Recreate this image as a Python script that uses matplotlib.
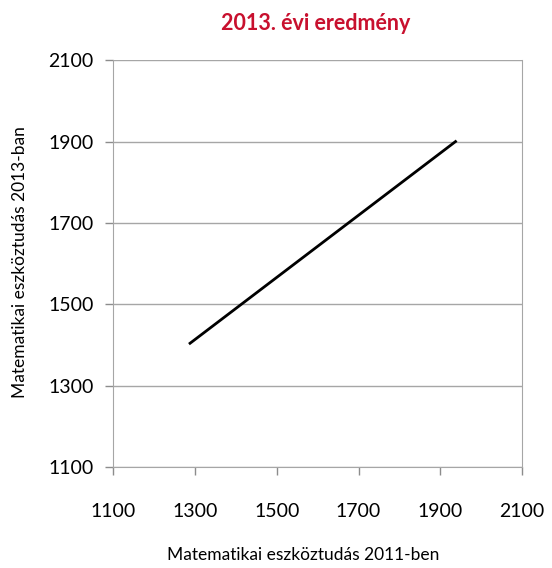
import matplotlib
matplotlib.use("Agg")
import matplotlib.pyplot as plt

# data
x_2011 = [1288, 1937]
y_2013 = [1404, 1900]
ticks = [1100, 1300, 1500, 1700, 1900, 2100]

plt.rcParams['font.family'] = ['Lato', 'DejaVu Sans']

fig = plt.figure(figsize=(5.52, 5.68), dpi=100)
ax = fig.add_axes([0.205, 0.178, 0.741, 0.716])

ax.plot(x_2011, y_2013, color='black', linewidth=2)

ax.set_xlim(1100, 2100)
ax.set_ylim(1100, 2100)
ax.set_xticks(ticks)
ax.set_yticks(ticks)
ax.tick_params(labelsize=14, colors='#8c8c8c', labelcolor='black', length=6, width=1)
ax.tick_params(axis='x', pad=20)
ax.tick_params(axis='y', pad=8)
ax.yaxis.grid(True, color='#a6a6a6', linewidth=1)
ax.set_axisbelow(True)
for s in ax.spines.values():
    s.set_color('#a6a6a6')
ax.spines['top'].set_visible(False)

fig.text(0.036, 0.539, 'Matematikai eszköztudás 2013-ban', fontsize=12.5,
         rotation=90, ha='center', va='center')
fig.text(0.549, 0.023, 'Matematikai eszköztudás 2011-ben', fontsize=12.5,
         ha='center', va='center')
fig.text(0.571, 0.958, '2013. évi eredmény', fontsize=15.5, fontweight='bold',
         color='#c8102e', ha='center', va='center')

fig.savefig('out.png', dpi=100)
